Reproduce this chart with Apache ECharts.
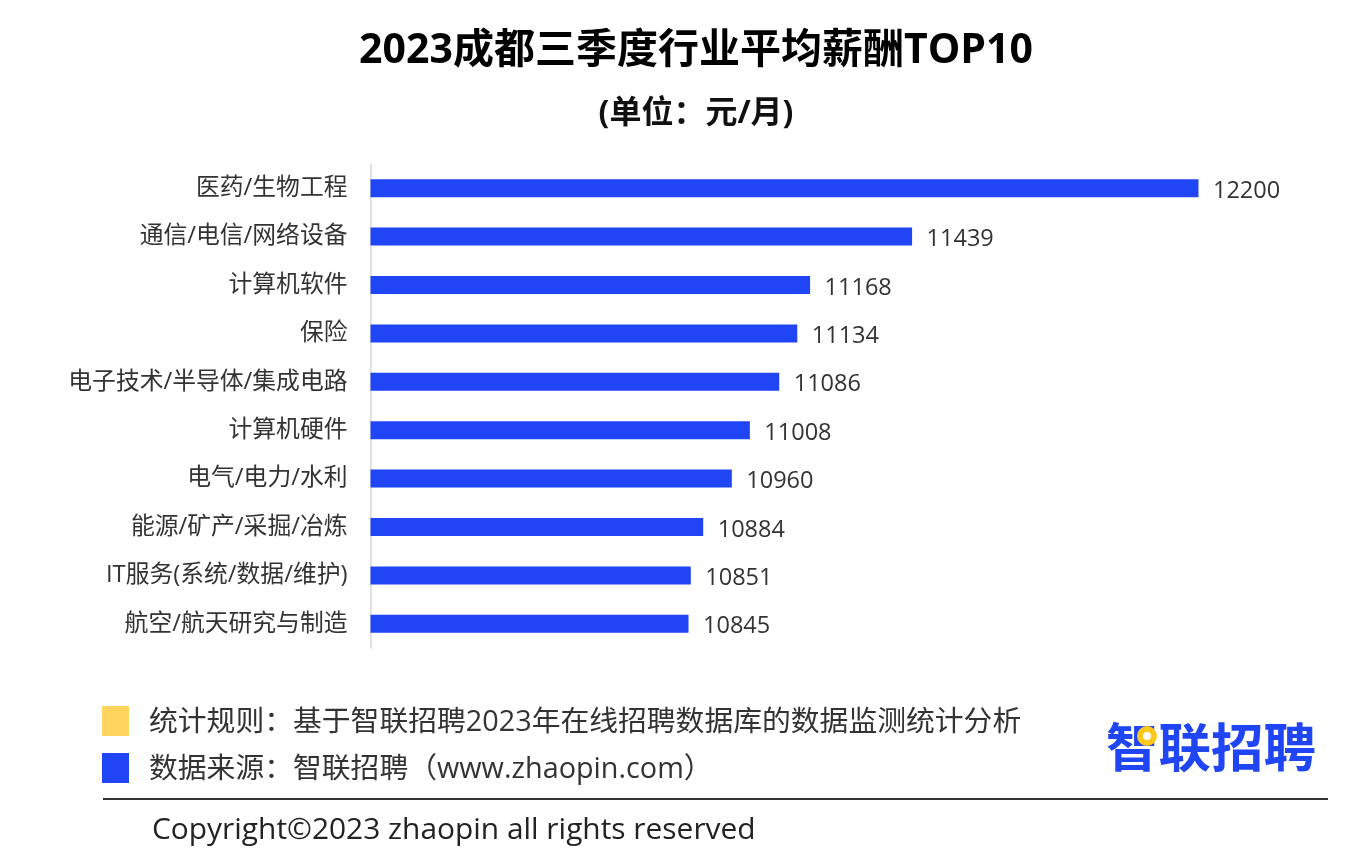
<!DOCTYPE html>
<html><head><meta charset="utf-8">
<style>html,body{margin:0;padding:0;background:#fff}#c{width:1368px;height:868px}</style>
<script src="https://cdn.jsdelivr.net/npm/echarts@6/dist/echarts.min.js"></script>
</head><body><div id="c"></div>
<script>
const categories = ['医药/生物工程','通信/电信/网络设备','计算机软件','保险','电子技术/半导体/集成电路','计算机硬件','电气/电力/水利','能源/矿产/采掘/冶炼','IT服务(系统/数据/维护)','航空/航天研究与制造'];
const salaries = [12200,11439,11168,11134,11086,11008,10960,10884,10851,10845];
const titleText = '2023成都三季度行业平均薪酬TOP10';
const subtitleText = '(单位\uFF1A元/月)';
const noteRule = '统计规则\uFF1A基于智联招聘2023年在线招聘数据库的数据监测统计分析';
const noteSource = '数据来源\uFF1A智联招聘\uFF08www.zhaopin.com\uFF09';
const copyright = 'Copyright©2023 zhaopin all rights reserved';
const logoText = '智联招聘';
const CJK = '"Open Sans","Noto Sans CJK SC",sans-serif';
const chart = echarts.init(document.getElementById('c'));
const txt = (x,y,text,size,color,extra) => ({type:'text',x,y,style:Object.assign({text,fontSize:size,fill:color,fontFamily:CJK,textVerticalAlign:'middle'},extra||{})});
chart.setOption({
  animation:false,
  backgroundColor:'#fff',
  title:[
    {text:titleText,left:691,top:26,textAlign:'center',textStyle:{fontSize:41,fontWeight:'bold',color:'#000',fontFamily:CJK}},
    {text:subtitleText,left:691,top:93,textAlign:'center',textStyle:{fontSize:32,fontWeight:'bold',color:'#111',fontFamily:CJK}}
  ],
  grid:{left:370.5,top:164,width:828,height:484},
  xAxis:{type:'value',min:10000,max:12200,show:false},
  yAxis:{type:'category',inverse:true,data:categories,
    axisLine:{show:true,lineStyle:{color:'#d9d9d9',width:1.5}},axisTick:{show:false},
    axisLabel:{fontSize:23.8,color:'#333',margin:23,fontFamily:CJK,padding:[4,0,0,0]}},
  series:[{type:'bar',data:salaries,barWidth:18,itemStyle:{color:'#1f45f5'},
    label:{show:true,position:'right',distance:14.5,fontSize:23.5,color:'#333',fontFamily:CJK,offset:[0,3]}}],
  graphic:[
    {type:'rect',shape:{x:102,y:706,width:27,height:30},style:{fill:'#ffd55f'}},
    {type:'rect',shape:{x:102,y:753,width:27,height:30},style:{fill:'#1f45f5'}},
    txt(149,723,noteRule,28.8,'#333'),
    txt(149,770,noteSource,28.8,'#333'),
    {type:'line',shape:{x1:103,y1:799,x2:1328,y2:799},style:{stroke:'#333',lineWidth:2}},
    txt(152,830,copyright,29.9,'#222'),
    txt(1106,752,logoText,52.5,'#1f45f5',{fontWeight:'bold'}),
    {type:'circle',shape:{cx:1147,cy:736,r:7},style:{fill:'#fff',stroke:'#ffc81e',lineWidth:6}}
  ]
});
</script></body></html>
